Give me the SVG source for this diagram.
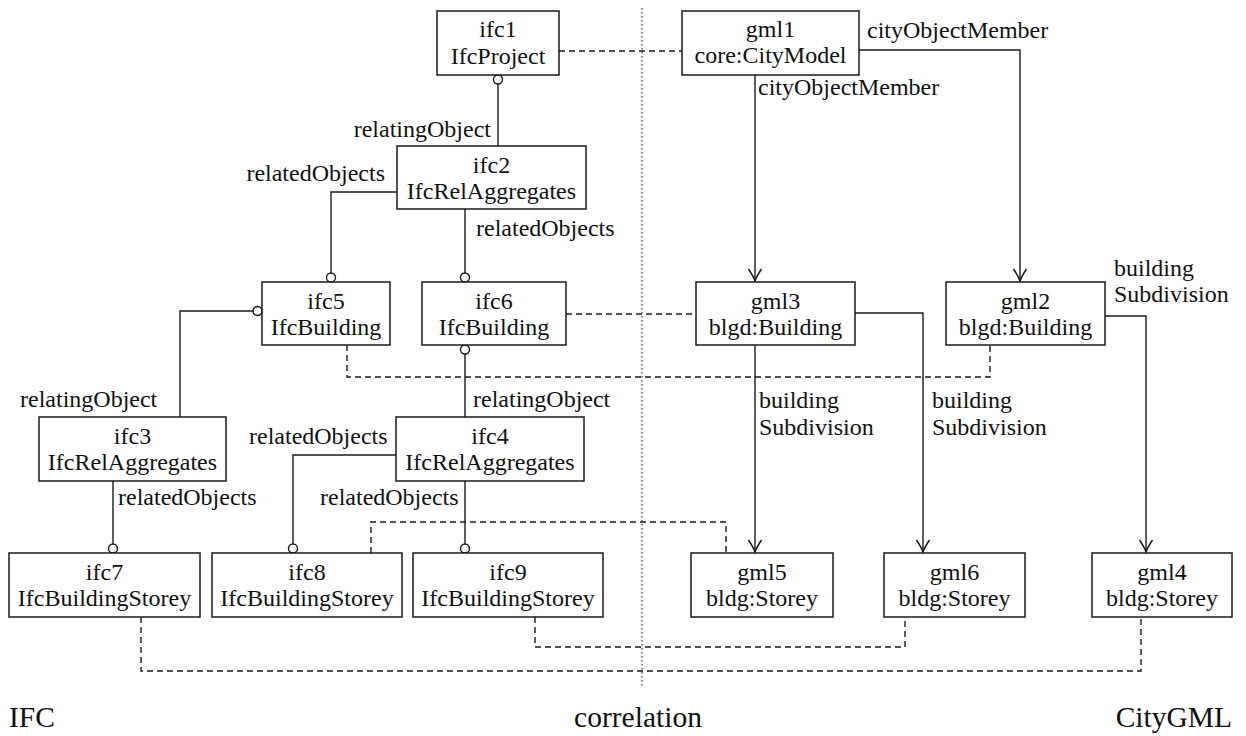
<svg xmlns="http://www.w3.org/2000/svg" width="1246" height="736" viewBox="0 0 1246 736">
  <style>
    .box { fill: #ffffff; stroke: #1a1a1a; stroke-width: 1.5; }
    .t { font-family: "Liberation Serif", "Times New Roman", serif; font-size: 24px; fill: #111; }
    .c { text-anchor: middle; }
    .e { text-anchor: end; }
    .big { font-size: 29.5px; }
    .ln { fill: none; stroke: #1a1a1a; stroke-width: 1.4; }
    .dash { fill: none; stroke: #1a1a1a; stroke-width: 1.4; stroke-dasharray: 6 4; }
    .dot { fill: none; stroke: #333; stroke-width: 1.2; stroke-dasharray: 1.5 2.5; }
    .ring { fill: #ffffff; stroke: #1a1a1a; stroke-width: 1.4; }
  </style>
  <defs>
    <marker id="arrow" viewBox="-13 -8 15 16" refX="0" refY="0" markerWidth="15" markerHeight="16" markerUnits="userSpaceOnUse" orient="auto">
      <path d="M -12 -6.5 Q -4.5 -1.5 0 0 Q -4.5 1.5 -12 6.5" fill="none" stroke="#1a1a1a" stroke-width="1.5"/>
    </marker>
  </defs>

  <rect width="1246" height="736" fill="#ffffff"/>

  <!-- separator between the IFC side and the CityGML side -->
  <line class="dot" x1="642" y1="8" x2="642" y2="688"/>

  <g id="connectors">
    <!-- IFC aggregation links -->
    <path class="ln" d="M498 84 V146"/>
    <circle class="ring" cx="498" cy="79.5" r="4.5"/>
    <path class="ln" d="M397 192 H331 V273"/>
    <circle class="ring" cx="331" cy="277.5" r="4.5"/>
    <path class="ln" d="M465 209 V273"/>
    <circle class="ring" cx="465" cy="277.5" r="4.5"/>
    <path class="ln" d="M253 311 H180 V417"/>
    <circle class="ring" cx="257.5" cy="311" r="4.5"/>
    <path class="ln" d="M465 354 V417"/>
    <circle class="ring" cx="465" cy="349.5" r="4.5"/>
    <path class="ln" d="M113 481 V544"/>
    <circle class="ring" cx="113" cy="548.5" r="4.5"/>
    <path class="ln" d="M396 455 H293 V544"/>
    <circle class="ring" cx="293" cy="548.5" r="4.5"/>
    <path class="ln" d="M465 481 V544"/>
    <circle class="ring" cx="465" cy="548.5" r="4.5"/>

    <!-- CityGML membership links -->
    <path class="ln" d="M755 75 V281" marker-end="url(#arrow)"/>
    <path class="ln" d="M859 50 H1020 V281" marker-end="url(#arrow)"/>
    <path class="ln" d="M855 313 H923 V552" marker-end="url(#arrow)"/>
    <path class="ln" d="M755 345 V552" marker-end="url(#arrow)"/>
    <path class="ln" d="M1105 316 H1146 V552" marker-end="url(#arrow)"/>

    <!-- correlations -->
    <path class="dash" d="M559 51 H682"/>
    <path class="dash" d="M566 314 H696"/>
    <path class="dash" d="M347 345 V377 H990 V345"/>
    <path class="dash" d="M371 553 V522 H726 V553"/>
    <path class="dash" d="M535 617 V647 H905 V617"/>
    <path class="dash" d="M141 617 V671 H1141 V617"/>
  </g>

  <g id="labels">
    <text class="t e" x="491" y="137">relatingObject</text>
    <text class="t e" x="385" y="181">relatedObjects</text>
    <text class="t" x="476" y="236">relatedObjects</text>
    <text class="t" x="867" y="38">cityObjectMember</text>
    <text class="t" x="758" y="95">cityObjectMember</text>
    <text class="t" x="20" y="407">relatingObject</text>
    <text class="t" x="473" y="407">relatingObject</text>
    <text class="t" x="249" y="444">relatedObjects</text>
    <text class="t" x="118" y="505">relatedObjects</text>
    <text class="t" x="320" y="505">relatedObjects</text>
    <text class="t" x="1114" y="276">building</text>
    <text class="t" x="1114" y="302">Subdivision</text>
    <text class="t" x="759" y="408">building</text>
    <text class="t" x="759" y="435">Subdivision</text>
    <text class="t" x="932" y="408">building</text>
    <text class="t" x="932" y="435">Subdivision</text>
  </g>

  <g id="ifc1"><rect class="box" x="437" y="11" width="122" height="64"/><text class="t c" x="498" y="37">ifc1</text><text class="t c" x="498" y="64">IfcProject</text></g>
  <g id="gml1"><rect class="box" x="682" y="11" width="177" height="64"/><text class="t c" x="770.5" y="37">gml1</text><text class="t c" x="770.5" y="63">core:CityModel</text></g>
  <g id="ifc2"><rect class="box" x="397" y="146" width="189" height="63"/><text class="t c" x="491.5" y="173">ifc2</text><text class="t c" x="491.5" y="199">IfcRelAggregates</text></g>
  <g id="ifc5"><rect class="box" x="262" y="282" width="128" height="63"/><text class="t c" x="326" y="309">ifc5</text><text class="t c" x="326" y="335">IfcBuilding</text></g>
  <g id="ifc6"><rect class="box" x="422" y="282" width="144" height="63"/><text class="t c" x="494" y="309">ifc6</text><text class="t c" x="494" y="335">IfcBuilding</text></g>
  <g id="gml3"><rect class="box" x="696" y="282" width="159" height="63"/><text class="t c" x="775.5" y="309">gml3</text><text class="t c" x="775.5" y="335">blgd:Building</text></g>
  <g id="gml2"><rect class="box" x="946" y="282" width="159" height="63"/><text class="t c" x="1025.5" y="309">gml2</text><text class="t c" x="1025.5" y="335">blgd:Building</text></g>
  <g id="ifc3"><rect class="box" x="39" y="417" width="187" height="64"/><text class="t c" x="132.5" y="444">ifc3</text><text class="t c" x="132.5" y="470">IfcRelAggregates</text></g>
  <g id="ifc4"><rect class="box" x="396" y="417" width="188" height="64"/><text class="t c" x="490" y="444">ifc4</text><text class="t c" x="490" y="470">IfcRelAggregates</text></g>
  <g id="ifc7"><rect class="box" x="9" y="553" width="191" height="64"/><text class="t c" x="104.5" y="580">ifc7</text><text class="t c" x="104.5" y="606">IfcBuildingStorey</text></g>
  <g id="ifc8"><rect class="box" x="212" y="553" width="190" height="64"/><text class="t c" x="307" y="580">ifc8</text><text class="t c" x="307" y="606">IfcBuildingStorey</text></g>
  <g id="ifc9"><rect class="box" x="413" y="553" width="190" height="64"/><text class="t c" x="508" y="580">ifc9</text><text class="t c" x="508" y="606">IfcBuildingStorey</text></g>
  <g id="gml5"><rect class="box" x="691" y="553" width="142" height="64"/><text class="t c" x="762" y="580">gml5</text><text class="t c" x="762" y="606">bldg:Storey</text></g>
  <g id="gml6"><rect class="box" x="884" y="553" width="141" height="64"/><text class="t c" x="954.5" y="580">gml6</text><text class="t c" x="954.5" y="606">bldg:Storey</text></g>
  <g id="gml4"><rect class="box" x="1092" y="553" width="140" height="64"/><text class="t c" x="1162" y="580">gml4</text><text class="t c" x="1162" y="606">bldg:Storey</text></g>

  <g id="sections">
    <text class="t big" x="9" y="727">IFC</text>
    <text class="t big c" x="638" y="727">correlation</text>
    <text class="t big e" x="1232" y="727">CityGML</text>
  </g>
</svg>
